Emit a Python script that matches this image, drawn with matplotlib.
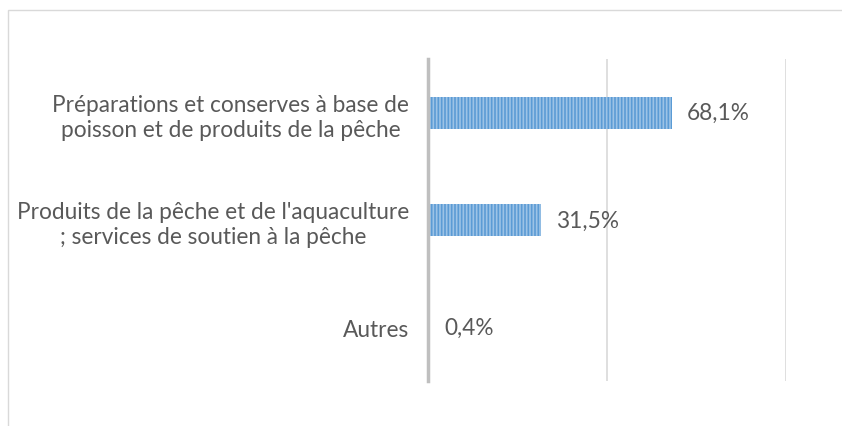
import matplotlib.pyplot as plt
from matplotlib.patches import Rectangle

categories = ["Préparations et conserves à base de\npoisson et de produits de la pêche",
              "Produits de la pêche et de l'aquaculture\n; services de soutien à la pêche",
              "Autres"]
values = [0.681, 0.315, 0.004]
labels = ["68,1%", "31,5%", "0,4%"]

plt.rcParams['font.family'] = ['Lato', 'DejaVu Sans']
plt.rcParams['hatch.linewidth'] = 1.2

W, H = 842, 427
fig = plt.figure(figsize=(W / 100, H / 100), dpi=100)
ax = fig.add_axes([428 / W, 1 - 382 / H, (786 - 428) / W, (382 - 60) / H])

pos = [0, 1, 2]
ax.barh(pos, values, height=0.3, color='#9DC3E6', edgecolor='#5B9BD5',
        hatch='|||||', linewidth=0)
for p, v, t in zip(pos, values, labels):
    ax.text(v + 0.042, p, t, va='center', ha='left', fontsize=16.3, color='#595959')

ax.set_xlim(0, 1.0)
ax.set_ylim(2.5, -0.5)
ax.set_xticks([0.5, 1.0])
ax.xaxis.grid(True, color='#d9d9d9', linewidth=1.2)
ax.set_axisbelow(True)
ax.tick_params(length=0, labelbottom=False)
ax.set_yticks(pos)
ax.set_yticklabels(categories, fontsize=16.3, color='#595959', ha='right',
                   multialignment='center', linespacing=1.25)
ax.tick_params(axis='y', pad=13.5)
for s in ['top', 'right', 'bottom']:
    ax.spines[s].set_visible(False)
ax.spines['left'].set_color('#bfbfbf')
ax.spines['left'].set_linewidth(2.5)

# chart border
fig.patches.append(Rectangle((8 / W, -0.2), 1.5, 1 - 11 / H + 0.2, transform=fig.transFigure,
                             fill=False, edgecolor='#d9d9d9', linewidth=1))

fig.savefig('out.png', dpi=100)
